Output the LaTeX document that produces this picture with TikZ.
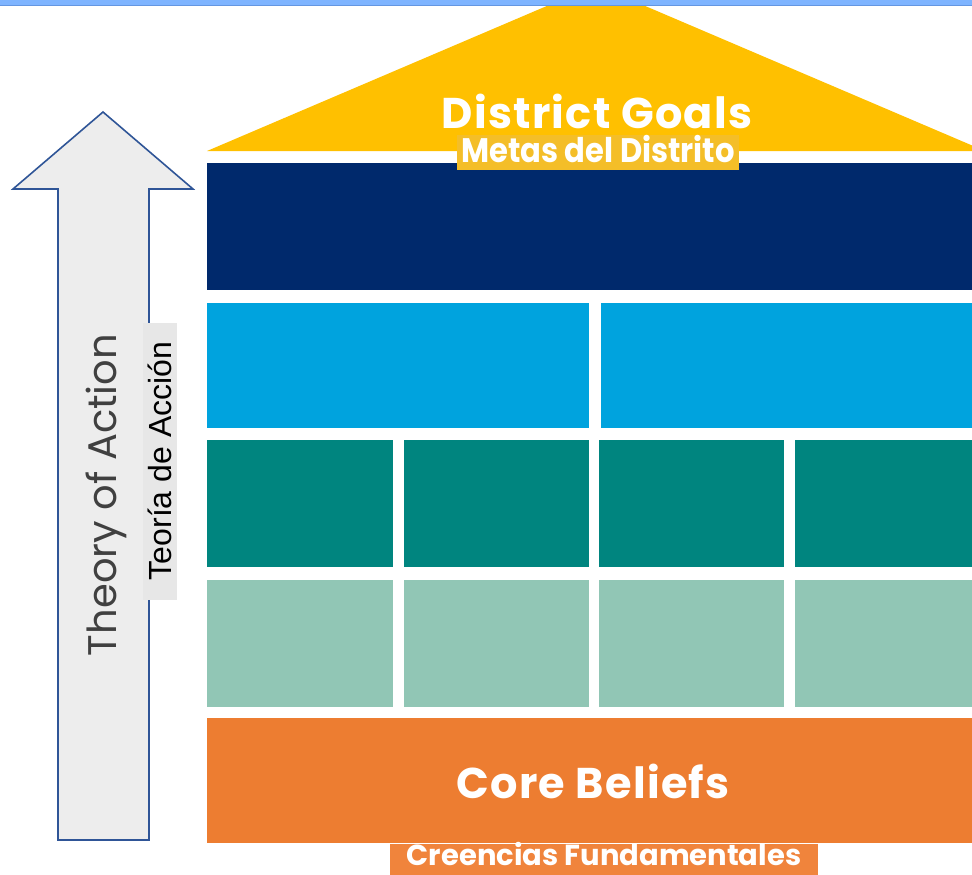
\documentclass[tikz,border=0pt]{standalone}
\usepackage{fontspec}
\usepackage{graphicx}
\setmainfont{Liberation Sans}
\newfontfamily\popfont{Poppins}
\newfontfamily\popwide{Poppins}[LetterSpace=3]
\definecolor{topbar}{RGB}{126,180,255}
\definecolor{topline}{RGB}{100,150,225}
\definecolor{roof}{RGB}{255,192,0}
\definecolor{metasbox}{RGB}{244,190,40}
\definecolor{navy}{RGB}{0,41,108}
\definecolor{skyb}{RGB}{0,163,222}
\definecolor{tealc}{RGB}{0,133,127}
\definecolor{sage}{RGB}{145,198,181}
\definecolor{orangec}{RGB}{237,125,49}
\definecolor{credbox}{RGB}{240,132,60}
\definecolor{arrowfill}{RGB}{237,237,237}
\definecolor{arrowline}{RGB}{47,85,151}
\definecolor{labelbox}{RGB}{231,231,231}
\definecolor{toatext}{RGB}{64,64,64}
\tikzset{
  bigtitle/.style={text=white,font=\popwide\bfseries\fontsize{43}{43}\selectfont,inner sep=0pt},
  tag/.style={text=white,inner sep=0pt,font=\popfont\bfseries},
}
\begin{document}
\begin{tikzpicture}[x=1pt,y=-1pt]
\useasboundingbox (0,0) rectangle (972,875);
% roof
\fill[roof] (207,151) -- (596,-15) -- (985,151) -- cycle;
% top bar
\fill[topbar] (0,0) rectangle (972,5);
\fill[topline] (0,5) rectangle (972,6.5);
% navy band
\fill[navy] (207,163) rectangle (972,290);
% light blue row
\fill[skyb] (207,303) rectangle (589,428);
\fill[skyb] (601,303) rectangle (972,428);
% teal row
\fill[tealc] (207,440) rectangle (393,567);
\fill[tealc] (404,440) rectangle (589,567);
\fill[tealc] (599,440) rectangle (784,567);
\fill[tealc] (795,440) rectangle (972,567);
% sage row
\fill[sage] (207,580) rectangle (393,707);
\fill[sage] (404,580) rectangle (589,707);
\fill[sage] (599,580) rectangle (784,707);
\fill[sage] (795,580) rectangle (972,707);
% orange foundation
\fill[orangec] (207,718) rectangle (972,843);
% labels
\node[bigtitle] (goals) at (597,111) {District Goals};
\fill[metasbox] (457,135) rectangle (739,170);
\node[tag,font=\popfont\bfseries\fontsize{34}{34}\selectfont,anchor=base] (metas) at (598,162) {\scalebox{0.9}[1]{Metas del Distrito}};
\node[bigtitle] (core) at (593,781) {Core Beliefs};
\fill[credbox] (390,844) rectangle (818,876);
\node[tag,font=\popfont\bfseries\fontsize{29}{29}\selectfont,anchor=base] (creencias) at (604,865) {Creencias Fundamentales};
% arrow
\draw[draw=arrowline,line width=1.6pt,fill=arrowfill,line join=miter]
  (103,112) -- (193,189) -- (149,189) -- (149,840) -- (58,840) -- (58,189) -- (13,189) -- cycle;
\node[rotate=90,text=toatext,font=\popfont\fontsize{40}{40}\selectfont,inner sep=0pt] (toa) at (106,495) {Theory of Action};
\node[rotate=90,fill=labelbox,minimum width=277pt,minimum height=34pt,inner sep=0pt,font=\fontsize{32}{32}\selectfont] (teoria) at (160,461) {Teoría de Acción};
\end{tikzpicture}
\end{document}
